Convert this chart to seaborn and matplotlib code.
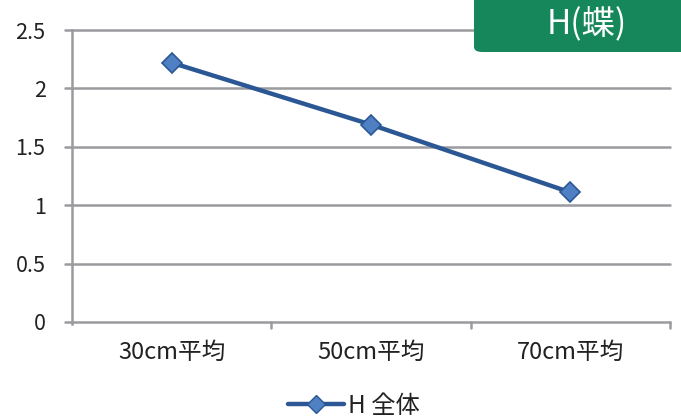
import matplotlib
matplotlib.use("Agg")
import matplotlib.pyplot as plt
import seaborn as sns
import pandas as pd
from matplotlib.lines import Line2D
from matplotlib.patches import FancyBboxPatch

# Data
categories = ["30cm平均", "50cm平均", "70cm平均"]
values = [2.22, 1.69, 1.11]
series_name = "H 全体"
panel_title = "H(蝶)"
y_ticks = [0, 0.5, 1, 1.5, 2, 2.5]
y_tick_labels = ["0", "0.5", "1", "1.5", "2", "2.5"]

sns.set_style("white")
plt.rcParams["font.family"] = ["Noto Sans CJK JP", "DejaVu Sans"]

line_color = "#2b5894"
marker_face = "#4f80c4"
grid_color = "#9a9a9f"
text_color = "#222222"

df = pd.DataFrame({"cat": categories, "val": values, "series": series_name})

fig = plt.figure(figsize=(6.81, 4.19), dpi=100)
ax = fig.add_axes([72 / 681, 1 - 322 / 419, (670 - 72) / 681, (322 - 30) / 419])

sns.lineplot(data=df, x="cat", y="val", ax=ax, sort=False,
             color=line_color, linewidth=3.2, marker="D", markersize=10,
             markerfacecolor=marker_face, markeredgecolor=line_color,
             markeredgewidth=1.2, legend=False, zorder=5)

ax.set_xlim(-0.5, len(categories) - 0.5)
ax.set_ylim(0, 2.5)
ax.set_yticks(y_ticks)
ax.set_yticklabels(y_tick_labels, fontsize=15.5, color=text_color)
ax.set_xticks(range(len(categories)))
ax.set_xticklabels(categories, fontsize=17, color=text_color)
ax.set_xlabel("")
ax.set_ylabel("")

# Horizontal gridlines extending slightly past the y axis
for yv in y_ticks:
    ax.plot([-0.5 - 7 / 199.3, len(categories) - 0.5], [yv, yv],
            color=grid_color, linewidth=1.8, clip_on=False, zorder=1)

# Axis lines
for s in ["top", "right", "bottom"]:
    ax.spines[s].set_visible(False)
ax.spines["left"].set_color(grid_color)
ax.spines["left"].set_linewidth(1.8)
ax.spines["left"].set_bounds(-0.02, 2.5)

# Category boundary ticks below the x axis
ax.tick_params(axis="x", length=0, pad=14)
ax.tick_params(axis="y", length=0, pad=19)
for b in [0.5, 1.5, 2.5]:
    ax.plot([b, b], [0, -0.05], color=grid_color, linewidth=1.8,
            clip_on=False, zorder=1)

# Legend at the bottom
handle = Line2D([0], [0], color=line_color, linewidth=3.2, marker="D",
                markersize=9, markerfacecolor=marker_face,
                markeredgecolor=line_color)
fig.legend([handle], [series_name], loc="center", bbox_to_anchor=(0.52, 0.032),
           frameon=False, fontsize=17.5, handlelength=2.3, handletextpad=0.15,
           labelcolor=text_color)

# Title badge in the top-right corner
badge = FancyBboxPatch((474 / 681, 1 - 52 / 419), 240 / 681, 70 / 419,
                       boxstyle="round,pad=0,rounding_size=0.012",
                       transform=fig.transFigure, facecolor="#16875a",
                       edgecolor="none", zorder=10, clip_on=False)
fig.patches.append(badge)
fig.text(587 / 681, 1 - 25 / 419, panel_title, color="white", fontsize=24,
         ha="center", va="center", zorder=11)

fig.savefig("out.png", dpi=100)
